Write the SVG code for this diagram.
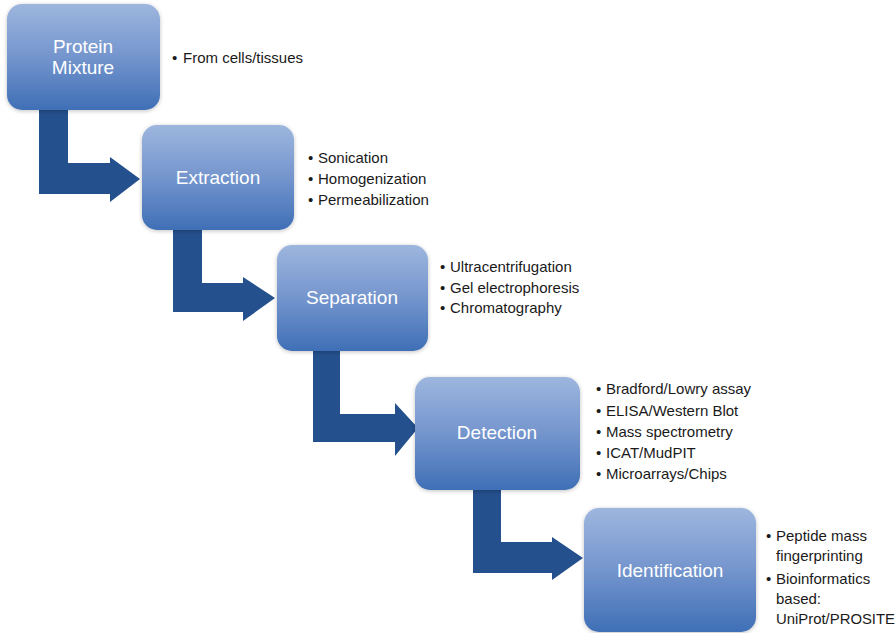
<svg xmlns="http://www.w3.org/2000/svg" width="896" height="633" viewBox="0 0 896 633">
  <defs>
    <linearGradient id="boxFill" x1="0" y1="0" x2="0" y2="1">
      <stop offset="0" stop-color="#9db6de"/>
      <stop offset="0.5" stop-color="#7495cd"/>
      <stop offset="1" stop-color="#3f6fb6"/>
    </linearGradient>
    <filter id="soft" x="-10%" y="-10%" width="120%" height="120%">
      <feGaussianBlur in="SourceAlpha" stdDeviation="2"/>
      <feOffset dx="0" dy="1"/>
      <feComponentTransfer><feFuncA type="linear" slope="0.25"/></feComponentTransfer>
      <feMerge><feMergeNode/><feMergeNode in="SourceGraphic"/></feMerge>
    </filter>
  </defs>
  <style>
    .box { fill: url(#boxFill); filter: url(#soft); }
    .title { font-family: "Liberation Sans", Arial, sans-serif; font-size: 19px; fill: #ffffff; text-anchor: middle; }
    .item { font-family: "Liberation Sans", Arial, sans-serif; font-size: 15px; fill: #1a1a1a; }
    .arrow { fill: #24508d; }
  </style>
  <rect width="896" height="633" fill="#ffffff"/>

  <!-- elbow arrows between steps -->
  <g id="connectors">
    <polygon class="arrow" points="39,104 68,104 68,163 110,163 110,157 140,179 110,202 110,194 39,194"/>
    <polygon class="arrow" points="173,224 202,224 202,283 243,283 243,277 275,298 243,321 243,312 173,312"/>
    <polygon class="arrow" points="313,345 340,345 340,414 395,414 395,403 418,428 395,456 395,442 313,442"/>
    <polygon class="arrow" points="473,484 501,484 501,542 552,542 552,537 583,558 552,580 552,573 473,573"/>
  </g>

  <g id="protein-mixture">
    <rect class="box" x="7" y="4" width="153" height="106" rx="15"/>
    <text class="title" x="83" y="53">Protein</text>
    <text class="title" x="83" y="74">Mixture</text>
    <text class="item" x="172" y="63">•</text>
    <text class="item" x="183" y="63">From cells/tissues</text>
  </g>

  <g id="extraction">
    <rect class="box" x="142" y="125" width="152" height="105" rx="15"/>
    <text class="title" x="218" y="184">Extraction</text>
    <g class="item">
      <text x="308" y="163">•</text><text x="318" y="163">Sonication</text>
      <text x="308" y="184">•</text><text x="318" y="184">Homogenization</text>
      <text x="308" y="205">•</text><text x="318" y="205">Permeabilization</text>
    </g>
  </g>

  <g id="separation">
    <rect class="box" x="277" y="245" width="151" height="106" rx="15"/>
    <text class="title" x="352" y="304">Separation</text>
    <g class="item">
      <text x="440" y="272">•</text><text x="450" y="272">Ultracentrifugation</text>
      <text x="440" y="293">•</text><text x="450" y="293">Gel electrophoresis</text>
      <text x="440" y="313">•</text><text x="450" y="313">Chromatography</text>
    </g>
  </g>

  <g id="detection">
    <rect class="box" x="415" y="377" width="165" height="113" rx="15"/>
    <text class="title" x="497" y="439">Detection</text>
    <g class="item">
      <text x="596" y="394">•</text><text x="606" y="394">Bradford/Lowry assay</text>
      <text x="596" y="416">•</text><text x="606" y="416">ELISA/Western Blot</text>
      <text x="596" y="437">•</text><text x="606" y="437">Mass spectrometry</text>
      <text x="596" y="458">•</text><text x="606" y="458">ICAT/MudPIT</text>
      <text x="596" y="479">•</text><text x="606" y="479">Microarrays/Chips</text>
    </g>
  </g>

  <g id="identification">
    <rect class="box" x="584" y="508" width="172" height="124" rx="15"/>
    <text class="title" x="670" y="577">Identification</text>
    <g class="item">
      <text x="766" y="541">•</text><text x="776" y="541">Peptide mass</text>
      <text x="776" y="561">fingerprinting</text>
      <text x="766" y="584">•</text><text x="776" y="584">Bioinformatics</text>
      <text x="776" y="604">based:</text>
      <text x="776" y="624" textLength="119" lengthAdjust="spacingAndGlyphs">UniProt/PROSITE</text>
    </g>
  </g>
</svg>
